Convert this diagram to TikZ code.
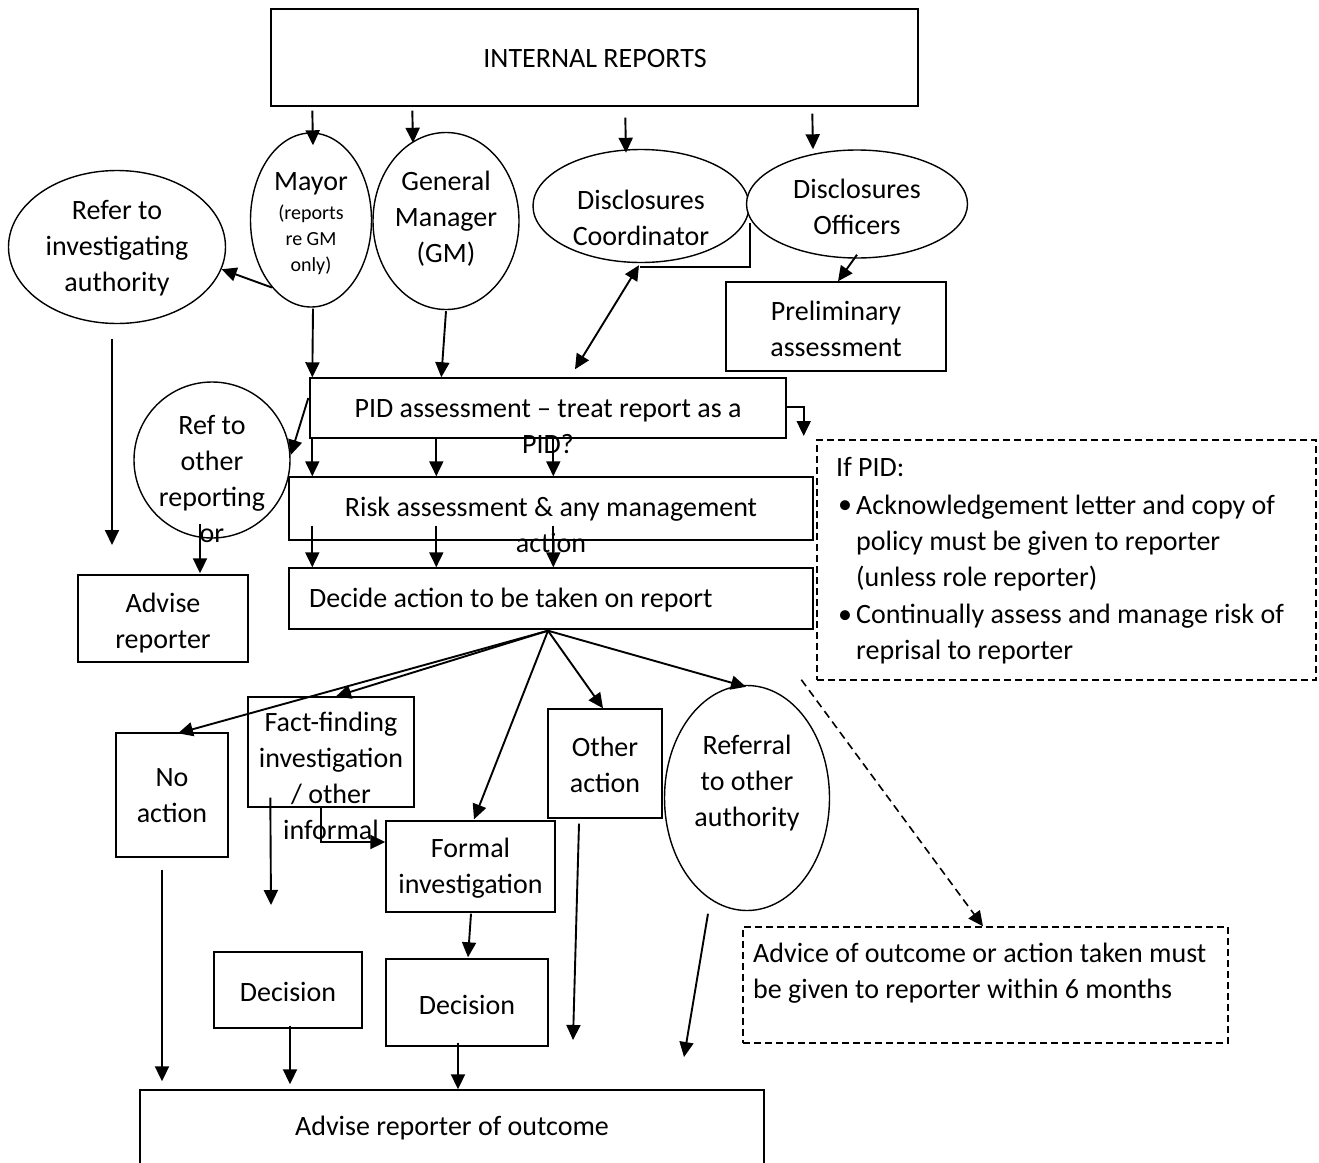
\documentclass[tikz,border=0pt]{standalone}
\usepackage{fontspec}
\setmainfont{Carlito}
\usetikzlibrary{shapes.geometric,arrows.meta}
\begin{document}
\begin{tikzpicture}[x=1pt,y=-1pt,
  shp/.style={draw, line width=1.4pt, fill=white, inner sep=0pt},
  rb/.style 2 args={shp, rectangle, minimum width=#1, minimum height=#2},
  db/.style 2 args={draw, line width=1.4pt, dash pattern=on 7pt off 4pt, rectangle, inner sep=0pt, minimum width=#1, minimum height=#2},
  el/.style 2 args={shp, ellipse, minimum width=#1, minimum height=#2},
  txt/.style={align=center, inner sep=0pt, font=\fontsize{28}{36}\selectfont},
  ltxt/.style={align=left, inner sep=0pt, anchor=west, font=\fontsize{28}{36}\selectfont},
  stxt/.style={align=center, inner sep=0pt, font=\fontsize{20}{26}\selectfont},
  arr/.style={line width=1.9pt, -{Triangle[length=15pt,width=14pt]}},
  dblarr/.style={line width=1.9pt, {Triangle[length=15pt,width=14pt]}-{Triangle[length=15pt,width=14pt]}},
  plain/.style={line width=1.9pt},
  darr/.style={line width=1.6pt, dash pattern=on 8pt off 5pt, -{Triangle[length=15pt,width=14pt]}}
]
\useasboundingbox (0,0) rectangle (1319,1162);

% ---------- shapes ----------
\node[rb={647}{97}] (top) at (594.5,57.5) {};
\node[el={217}{153}] (refinv) at (117,247) {};
\node[el={121}{174}] (mayor) at (311,220) {};
\node[el={146}{177}] (gm) at (446,221) {};
\node[el={216}{113}] (coord) at (641,206) {};
\node[el={221}{108}] (offi) at (857,204) {};
\node[rb={220}{89}] (prelim) at (836,326.5) {};
\node[rb={476}{60}] (pid) at (548,408) {};
\node[shp, circle, minimum size=156] (refo) at (212,460) {};
\node[rb={524}{63}] (risk) at (551,508.5) {};
\node[rb={524}{61}] (decide) at (551,598.5) {};
\node[rb={170}{87}] (advise) at (163,618.5) {};
\node[db={499}{240}] (ifpid) at (1066.5,560) {};
\node[rb={112}{124}] (noact) at (172,795) {};
\node[rb={166}{110}] (fact) at (331,752) {};
\node[rb={169}{91}] (formal) at (470.5,866.5) {};
\node[rb={114}{109}] (other) at (605,763.5) {};
\node[el={165}{225}] (referral) at (747,798) {};
\node[rb={148}{76}] (dec1) at (288,990) {};
\node[rb={162}{87}] (dec2) at (467,1002.5) {};
\node[db={485}{116}] (advice) at (985.5,985) {};
\node[rb={624}{100}] (outcome) at (452,1140) {};

% ---------- texts ----------
\node[txt] (ttop) at (595,59) {INTERNAL REPORTS};
\node[txt] (tmayor) at (311,184) {Mayor};
\node[stxt] (tmayor2) at (311,240) {(reports\\re GM\\only)};
\node[txt] (tgm) at (446,219) {General\\Manager\\(GM)};
\node[txt] (trefinv) at (117,248) {Refer to\\investigating\\authority};
\node[txt] (tcoord) at (641,218) {Disclosures\\Coordinator};
\node[txt] (toffi) at (857,207) {Disclosures\\Officers};
\node[txt] (tprelim) at (836,329) {Preliminary\\assessment};
\node[txt] (tpid) at (548,427) {PID assessment -- treat report as a\\PID?};
\node[txt] (trefo) at (212,479) {Ref to\\other\\reporting\\or};
\node[txt] (trisk) at (551,525) {Risk assessment \& any management\\action};
\node[ltxt] (tdecide) at (309,600) {Decide action to be taken on report};
\node[txt] (tadvise) at (163,623) {Advise\\reporter};
\node[ltxt] (tif) at (836,467) {If PID:};
\node[txt] (b1) at (845,507) {•};
\node[ltxt] (tb1) at (856,543) {Acknowledgement letter and copy of\\policy must be given to reporter\\(unless role reporter)};
\node[txt] (b2) at (845,617) {•};
\node[ltxt] (tb2) at (856,634.5) {Continually assess and manage risk of\\reprisal to reporter};
\node[txt] (tnoact) at (172,796) {No\\action};
\node[txt] (tfact) at (331,775.5) {Fact-finding\\investigation\\/ other\\informal};
\node[txt] (tformal) at (470.5,868) {Formal\\investigation};
\node[txt] (tother) at (605,765) {Other\\action};
\node[txt] (treferral) at (747,783) {Referral\\to other\\authority};
\node[txt] (tdec1) at (288,992) {Decision};
\node[txt] (tdec2) at (467,1005) {Decision};
\node[ltxt] (tadvice) at (753,973.5) {Advice of outcome or action taken must\\be given to reporter within 6 months};
\node[txt] (toutcome) at (452,1128) {Advise reporter of outcome};

% ---------- free ends ----------
\coordinate (fe1) at (271,905);
\coordinate (fe2) at (573,1040);
\coordinate (fe3) at (684,1057);
\coordinate (fe4) at (112,545);

% ---------- connectors ----------
\draw[arr] ([shift={(42,4)}]top.south west) -- ([shift={(2,13)}]mayor.north);
\draw[arr] ([shift={(142,4)}]top.south west) -- ([shift={(-33,11)}]gm.north);
\draw[arr] ([shift={(355,11)}]top.south west) -- ([shift={(-15,4)}]coord.north);
\draw[arr] ([shift={(542,7)}]top.south west) -- ([shift={(-44,0)}]offi.north);
\draw[arr] (mayor.240) -- (refinv.-12);
\draw[plain] ([shift={(0,17)}]coord.east) |- ([shift={(-1,4)}]coord.south);
\draw[dblarr] ([shift={(27,-8)}]pid.north) -- ([shift={(-2,2)}]coord.south);
\draw[arr] ([shift={(0,-4)}]offi.south) -- ([shift={(2,0)}]prelim.north);
\draw[arr] ([shift={(2,1)}]mayor.south) -- ([shift={(3,0)}]pid.north west);
\draw[arr] ([shift={(0,1)}]gm.south) -- ([shift={(132,0)}]pid.north west);
\draw[arr] ([shift={(-1,-10)}]pid.west) -- ([shift={(0,-5)}]refo.east);
\draw[arr] ([shift={(0,-1)}]pid.east) -| ([shift={(17,28)}]pid.east);
\foreach \dx/\ex in {3/24,127/148,244/265}{
  \draw[arr] ([shift={(\dx,0)}]pid.south west) -- ([shift={(\ex,0)}]risk.north west);
  \draw[arr] ([shift={(\ex,-15)}]risk.south west) -- ([shift={(\ex,0)}]decide.north west);
}
\draw[arr] ([shift={(-3,1)}]decide.south) -- ([shift={(6,1)}]noact.north);
\draw[arr] ([shift={(-3,1)}]decide.south) -- ([shift={(5,0)}]fact.north);
\draw[arr] ([shift={(-3,1)}]decide.south) -- ([shift={(3.5,-1)}]formal.north);
\draw[arr] ([shift={(-3,1)}]decide.south) -- ([shift={(-2,0)}]other.north);
\draw[arr] ([shift={(-3,1)}]decide.south) -- ([shift={(-1,2)}]referral.north);
\draw[arr] ([shift={(-10,0)}]fact.south) |- ([shift={(0,-24.5)}]formal.west);
\draw[arr] ([shift={(23,-10)}]fact.south west) -- (fe1);
\draw[arr] ([shift={(-10,12)}]noact.south) -- ([shift={(-290,-8)}]outcome.north);
\draw[arr] ([shift={(-26,5)}]other.south) -- (fe2);
\draw[arr] ([shift={(-39,2.5)}]referral.south) -- (fe3);
\draw[arr] ([shift={(0.5,1)}]formal.south) -- ([shift={(1,-1)}]dec2.north);
\draw[arr] ([shift={(2,-3)}]dec1.south) -- ([shift={(-162,-5)}]outcome.north);
\draw[arr] ([shift={(-9,-4)}]dec2.south) -- ([shift={(6,0)}]outcome.north);
\draw[darr] ([shift={(-15,-1)}]ifpid.south west) -- ([shift={(-2.5,0)}]advice.north);
\draw[arr] ([shift={(-5,14.5)}]refinv.south) -- (fe4);
\draw[arr] ([shift={(-12,-15)}]refo.south) -- ([shift={(37,-1)}]advise.north);
\end{tikzpicture}
\end{document}
